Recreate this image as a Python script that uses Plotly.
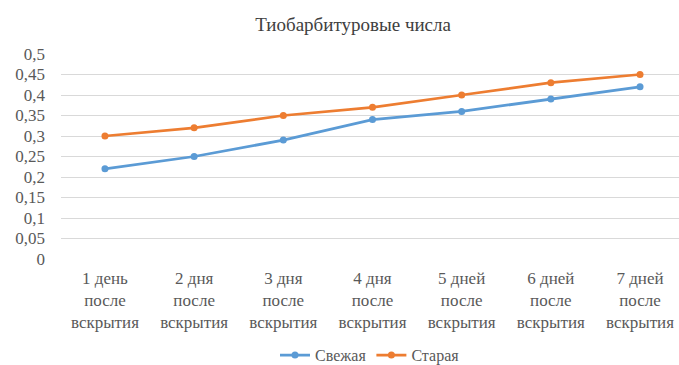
import plotly.graph_objects as go

categories = ["1 день<br>после<br>вскрытия", "2 дня<br>после<br>вскрытия", "3 дня<br>после<br>вскрытия",
              "4 дня<br>после<br>вскрытия", "5 дней<br>после<br>вскрытия", "6 дней<br>после<br>вскрытия",
              "7 дней<br>после<br>вскрытия"]
fresh = [0.22, 0.25, 0.29, 0.34, 0.36, 0.39, 0.42]
old = [0.30, 0.32, 0.35, 0.37, 0.40, 0.43, 0.45]
y_tickvals = [0, 0.05, 0.1, 0.15, 0.2, 0.25, 0.3, 0.35, 0.4, 0.45, 0.5]
y_ticktext = ["0", "0,05", "0,1", "0,15", "0,2", "0,25", "0,3", "0,35", "0,4", "0,45", "0,5"]

x = list(range(len(categories)))
font = "Liberation Serif"

fig = go.Figure()
fig.add_trace(go.Scatter(x=x, y=fresh, name="Свежая", mode="lines+markers",
                         line=dict(color="#5B9BD5", width=2.75),
                         marker=dict(size=7, color="#5B9BD5")))
fig.add_trace(go.Scatter(x=x, y=old, name="Старая", mode="lines+markers",
                         line=dict(color="#ED7D31", width=2.75),
                         marker=dict(size=7, color="#ED7D31")))

fig.update_layout(
    width=679, height=365,
    margin=dict(l=61, r=0, t=54, b=106),
    paper_bgcolor="white", plot_bgcolor="white",
    font=dict(family=font, size=17, color="#595959"),
    title=dict(text="Тиобарбитуровые числа", x=0.52, xanchor="center",
               yref="container", y=0.934, yanchor="middle",
               font=dict(family=font, size=19, color="#404040")),
    showlegend=True,
    legend=dict(orientation="h", x=0.5, xanchor="center", yref="container", y=0.027, yanchor="middle",
                font=dict(family=font, size=16, color="#595959"), itemwidth=30),
    xaxis=dict(tickmode="array", tickvals=x, ticktext=categories, range=[-0.493, 6.437],
               showgrid=False, zeroline=False, showline=False, ticks="", automargin=False,
               ticklabelstandoff=7),
    yaxis=dict(tickmode="array", tickvals=y_tickvals, ticktext=y_ticktext, range=[0, 0.5],
               showgrid=True, gridcolor="#D9D9D9", gridwidth=1, zeroline=False, showline=False,
               ticks="", ticklabelstandoff=15, automargin=False),
)
fig.write_html("out.html")
